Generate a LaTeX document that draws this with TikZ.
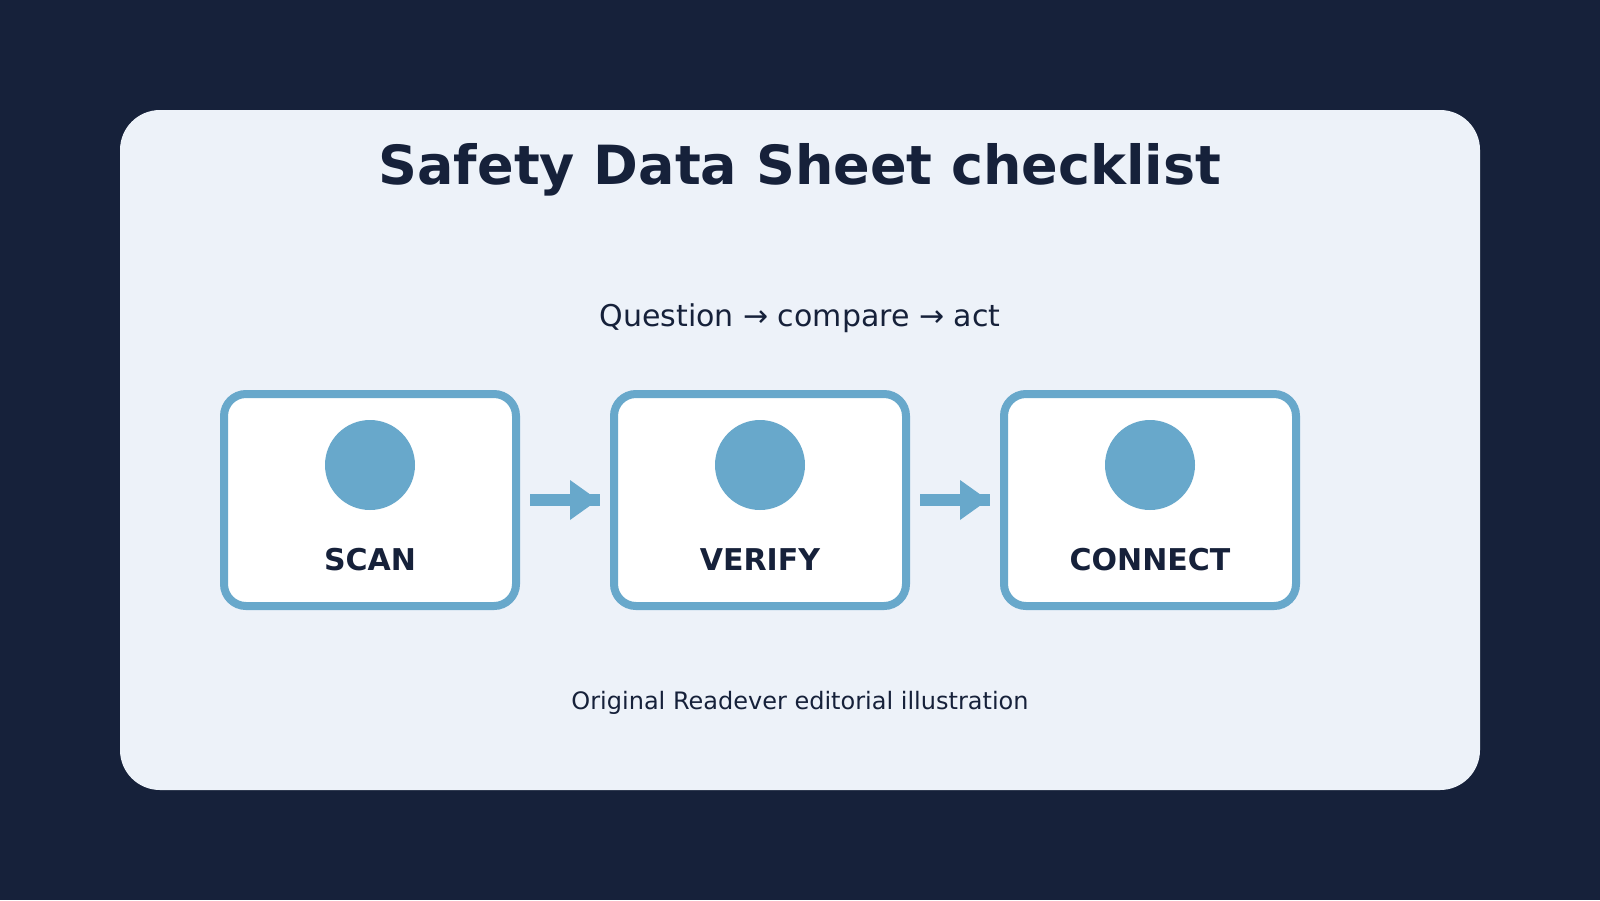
\documentclass[tikz,border=0pt]{standalone}
\usepackage{fontspec}
\setmainfont{DejaVu Sans}
\definecolor{bgnavy}{HTML}{16213A}
\definecolor{panelc}{HTML}{EDF2F9}
\definecolor{accent}{HTML}{68A8CB}
\definecolor{ink}{HTML}{16213A}
\tikzset{
  stepbox/.style={draw=accent, line width=8pt, fill=white, rounded corners=22pt,
    minimum width=292pt, minimum height=212pt, inner sep=0pt},
  icondot/.style={circle, fill=accent, minimum size=90pt, inner sep=0pt},
  steplabel/.style={anchor=base, text=ink, inner sep=0pt, font=\fontsize{30}{36}\selectfont\bfseries},
  shaft/.style={draw=accent, line width=12pt},
  headtri/.style={fill=accent},
}
\begin{document}
\begin{tikzpicture}[x=1pt,y=-1pt]
\fill[bgnavy] (0,0) rectangle (1600,900);
\useasboundingbox (0,0) rectangle (1600,900);
\fill[panelc, rounded corners=40pt] (120,110) rectangle (1480,790);
\node[anchor=base, text=ink, inner sep=0pt, font=\fontsize{54}{64}\selectfont\bfseries] (title) at (800,184) {Safety Data Sheet checklist};
\node[anchor=base, text=ink, inner sep=0pt, font=\fontsize{30}{36}\selectfont] (sub) at (800,326) {Question → compare → act};
\node[stepbox] (scan) at (370,500) {};
\node[stepbox] (verify) at (760,500) {};
\node[stepbox] (connect) at (1150,500) {};
\node[icondot] (scanicon) at (370,465) {};
\node[icondot] (verifyicon) at (760,465) {};
\node[icondot] (connecticon) at (1150,465) {};
\node[steplabel] (scanlab) at (370,570) {SCAN};
\node[steplabel] (verifylab) at (760,570) {VERIFY};
\node[steplabel] (connectlab) at (1150,570) {CONNECT};
\draw[shaft] ([xshift=10pt]scan.east) -- ([xshift=-10pt]verify.west);
\fill[headtri] ([xshift=50pt]scan.east) ++(0,-20) -- ++(0,40) -- ++(28,-20) -- cycle;
\draw[shaft] ([xshift=10pt]verify.east) -- ([xshift=-10pt]connect.west);
\fill[headtri] ([xshift=50pt]verify.east) ++(0,-20) -- ++(0,40) -- ++(28,-20) -- cycle;
\node[anchor=base, text=ink, inner sep=0pt, font=\fontsize{24}{30}\selectfont] (foot) at (800,709) {Original Readever editorial illustration};
\end{tikzpicture}
\end{document}
